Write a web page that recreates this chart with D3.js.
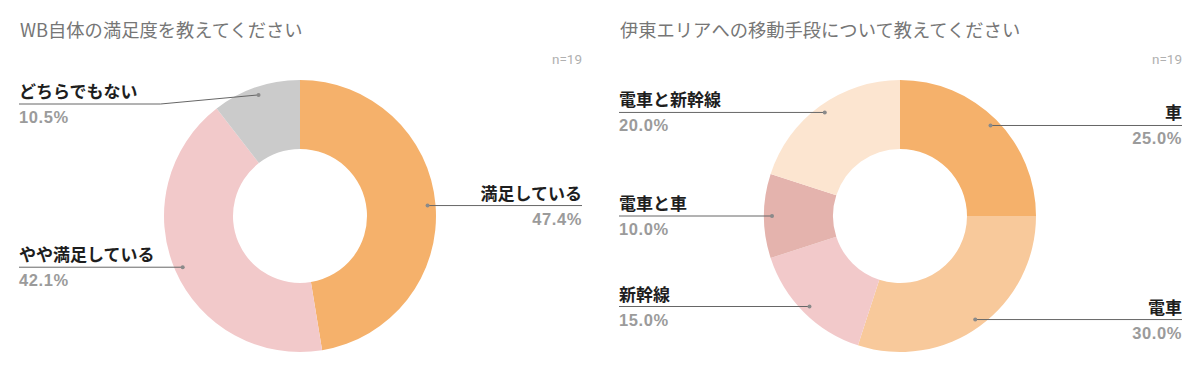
<!DOCTYPE html>
<html>
<head>
<meta charset="utf-8">
<script src="https://cdn.jsdelivr.net/npm/d3@7"></script>
<style>
  body { margin: 0; background: #fff; }
  svg { display: block; font-family: "Noto Sans CJK JP", "Noto Sans", sans-serif; }
  .title { fill: #767676; font-size: 18.3px; }
  .count { fill: #b0b0b0; font-size: 13.5px; font-family: Roboto, "Noto Sans", sans-serif; }
  .cat { fill: #1e1e1e; font-size: 17px; font-weight: bold; }
  .pct { fill: #9b9b9b; font-size: 16.5px; font-weight: bold; font-family: "Liberation Sans", Arial, sans-serif; letter-spacing: 0.6px; }
  .leader { fill: none; stroke: #666; stroke-width: 1; }
</style>
</head>
<body>
<svg id="chart" width="1200" height="371"></svg>
<script>
// chart 1
const satTitle = "WB自体の満足度を教えてください";
const satLabels = ["満足している", "やや満足している", "どちらでもない"];
const satValues = [47.4, 42.1, 10.5];
const satColors = ["#f5b16b", "#f2c9ca", "#cbcbcb"];

// chart 2
const moveTitle = "伊東エリアへの移動手段について教えてください";
const moveLabels = ["車", "電車", "新幹線", "電車と車", "電車と新幹線"];
const moveValues = [25.0, 30.0, 15.0, 10.0, 20.0];
const moveColors = ["#f5b16b", "#f8c99b", "#f2c9ca", "#e4b3ad", "#fce5d0"];

const sampleSize = "n=19";

const panels = [
    {title: satTitle, labels: satLabels, values: satValues, colors: satColors},
    {title: moveTitle, labels: moveLabels, values: moveValues, colors: moveColors}
];

const svg = d3.select("#chart");
const panelW = 600, margin = 19;
const cx = 300, cy = 216, outerR = 136, innerR = 67, dotR = 128;
const minLineY = 104;

const arc = d3.arc().innerRadius(innerR).outerRadius(outerR);
const pie = d3.pie().sort(null).value(d => d.value);

panels.forEach(function(p, i) {
    const g = svg.append("g").attr("transform", "translate(" + (i * panelW) + ",0)");

    g.append("text").attr("class", "title")
        .attr("x", margin + 1).attr("y", 37)
        .text(p.title);

    g.append("text").attr("class", "count")
        .attr("x", 582).attr("y", 64)
        .attr("text-anchor", "end")
        .text(sampleSize);

    const rows = p.labels.map((l, k) => ({label: l, value: p.values[k], color: p.colors[k]}));
    const arcs = pie(rows);

    const donut = g.append("g").attr("transform", "translate(" + cx + "," + cy + ")");
    donut.selectAll("path").data(arcs).enter().append("path")
        .attr("d", arc)
        .attr("fill", d => d.data.color);

    arcs.forEach(function(a) {
        const mid = (a.startAngle + a.endAngle) / 2;
        const dx = cx + dotR * Math.sin(mid);
        const dy = cy - dotR * Math.cos(mid);
        const right = dx > cx;
        const lineY = Math.max(dy, minLineY);
        const endX = right ? 582 : margin;

        let pts;
        if (Math.abs(lineY - dy) > 1) {
            const elbow = right ? dx + 98 : dx - 98;
            pts = [[endX, lineY], [elbow, lineY], [dx, dy]];
        } else {
            pts = [[endX, dy], [dx, dy]];
        }
        g.append("path").attr("class", "leader")
            .attr("d", d3.line()(pts));
        g.append("circle")
            .attr("cx", dx).attr("cy", dy).attr("r", 2)
            .attr("fill", "#8a8a8a");

        const ly = Math.abs(lineY - dy) > 1 ? lineY : dy;
        g.append("text").attr("class", "cat")
            .attr("x", endX).attr("y", ly - 6)
            .attr("text-anchor", right ? "end" : "start")
            .text(a.data.label);
        g.append("text").attr("class", "pct")
            .attr("x", endX).attr("y", ly + 19)
            .attr("text-anchor", right ? "end" : "start")
            .text(a.data.value.toFixed(1) + "%");
    });
});
</script>
</body>
</html>
